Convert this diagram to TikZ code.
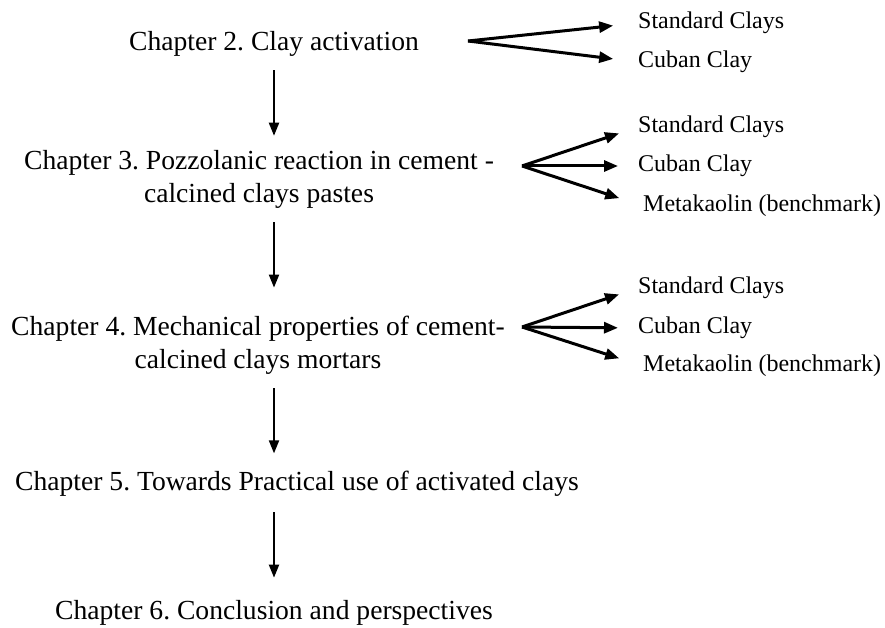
\documentclass[tikz,border=0pt]{standalone}
\usepackage{fontspec}
\setmainfont{Liberation Serif}
\frenchspacing
\usetikzlibrary{arrows.meta,positioning}

\begin{document}
\begin{tikzpicture}[
  x=1pt, y=-1pt,
  chap/.style={align=center, font=\fontsize{27.6}{33}\selectfont, inner sep=0pt},
  clay/.style={anchor=west, font=\fontsize{24}{28}\selectfont, inner sep=0pt},
  down/.style={-{Triangle[length=13pt, width=10pt]}, line width=2pt},
  fork/.style={-{Triangle[length=14pt, width=11pt]}, line width=3pt, shorten >=20pt}
]
  \useasboundingbox (0,0) rectangle (885,628);

  % Chapters
  \node[chap, anchor=base] (ch2) at (274,51) {Chapter 2. Clay activation};
  \node[chap] (ch3) at (259,179) {Chapter 3. Pozzolanic reaction in cement -\\calcined clays pastes};
  \node[chap] (ch4) at (258,345) {Chapter 4. Mechanical properties of cement-\\calcined clays mortars};
  \node[chap, anchor=base] (ch5) at (297,490) {Chapter 5. Towards Practical use of activated clays};
  \node[chap, anchor=base] (ch6) at (274,619) {Chapter 6. Conclusion and perspectives};

  \coordinate (axis) at (274,0);
  \draw[down, shorten <=13pt, shorten >=14pt] (ch2.south -| axis) -- (ch3.north -| axis);
  \draw[down, shorten <=14pt, shorten >=28pt] (ch3.south -| axis) -- (ch4.north -| axis);
  \draw[down, shorten <=14pt, shorten >=17pt] (ch4.south -| axis) -- (ch5.north -| axis);
  \draw[down, shorten <=16pt, shorten >=22pt] (ch5.south -| axis) -- (ch6.north -| axis);

  % Clays for chapter 2
  \coordinate (f2) at (468,41);
  \node[clay] (std2) at (638,23) {Standard Clays};
  \node[clay] (cub2) at (638,62) {Cuban Clay};
  \draw[fork, shorten >=25pt] (f2) -- (std2.west);
  \draw[fork, shorten >=25pt] (f2) -- (cub2.west);

  % Clays for chapter 3
  \coordinate (f3) at (522,166);
  \node[clay] (std3) at (638,127) {Standard Clays};
  \node[clay] (cub3) at (638,166) {Cuban Clay};
  \node[clay] (met3) at (643,206) {Metakaolin (benchmark)};
  \draw[fork] (f3) -- (std3.west);
  \draw[fork] (f3) -- (cub3.west);
  \draw[fork, shorten >=25pt] (f3) -- (met3.west);

  % Clays for chapter 4
  \coordinate (f4) at (522,327);
  \node[clay] (std4) at (638,288) {Standard Clays};
  \node[clay] (cub4) at (638,328) {Cuban Clay};
  \node[clay] (met4) at (643,366) {Metakaolin (benchmark)};
  \draw[fork] (f4) -- (std4.west);
  \draw[fork] (f4) -- (cub4.west);
  \draw[fork, shorten >=25pt] (f4) -- (met4.west);
\end{tikzpicture}
\end{document}
